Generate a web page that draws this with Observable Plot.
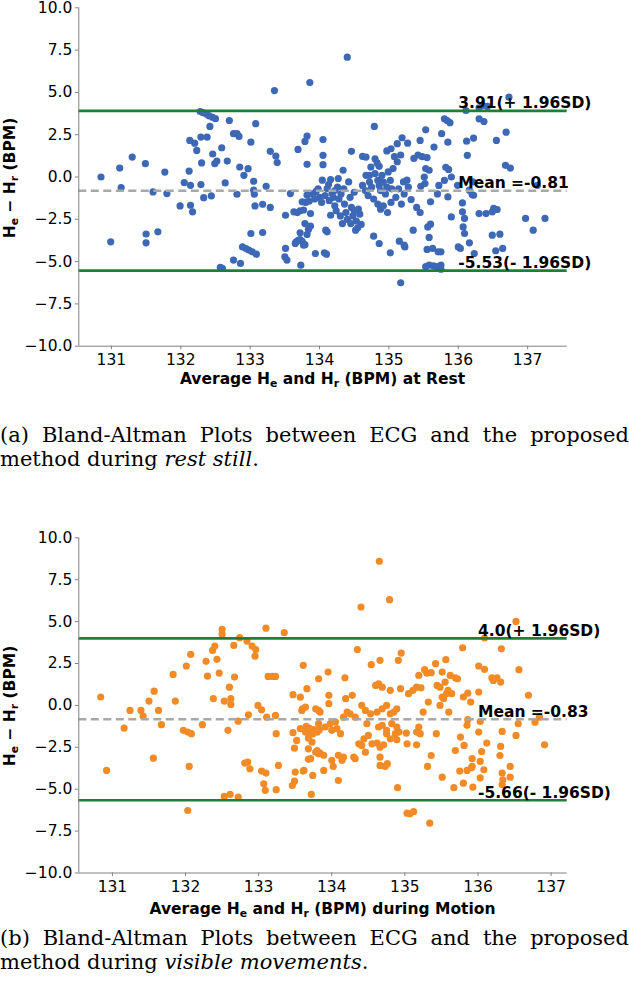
<!DOCTYPE html>
<html><head><meta charset="utf-8">
<script src="https://cdn.jsdelivr.net/npm/d3@7"></script>
<script src="https://cdn.jsdelivr.net/npm/@observablehq/plot@0.6"></script>
<style>
body{margin:0;background:#fff;}
#page{position:relative;width:629px;height:996px;overflow:hidden;font-family:"DejaVu Sans";background:#fff;}
.fig{position:absolute;left:0;width:629px;height:400px;}
.fig svg{position:absolute;left:0;top:0;}
.ylab,.xlab{position:absolute;font-weight:bold;font-size:15.5px;line-height:18px;white-space:nowrap;text-align:center;color:#000;font-family:"DejaVu Sans";}
.ylab{width:200px;transform:rotate(-90deg);transform-origin:50% 50%;}
.sub{font-size:0.7em;position:relative;top:0.25em;}
.cap{position:absolute;left:0;width:629px;font-family:"DejaVu Serif";font-size:21px;line-height:23.5px;color:#000;}
.just{text-align:justify;text-align-last:justify;white-space:nowrap;}
</style>
</head><body>
<div id="page"></div>
<script>
// ---------- data ----------
const restPoints = [
[130.85,0.00],[131.12,0.53],[131.14,-0.63],[130.99,-3.83],[131.30,1.18],[131.49,0.79],[131.50,-3.37],[131.50,-3.89],
[131.60,-0.88],[131.67,-3.24],[131.77,0.29],[131.80,-0.98],[131.99,-1.71],[132.05,-0.33],[132.12,0.35],[132.13,2.16],
[132.14,-0.49],[132.14,-1.67],[132.17,-2.06],[132.20,2.00],[132.23,1.57],[132.29,2.36],[132.29,-0.45],[132.30,0.83],
[132.28,3.87],[132.32,3.80],[132.37,3.72],[132.41,3.61],[132.46,3.53],[132.50,3.45],[132.33,-1.22],[132.38,2.36],
[132.42,2.99],[132.44,-1.12],[132.46,1.36],[132.49,0.79],[132.52,0.94],[132.57,-5.34],[132.60,-5.40],[132.59,1.73],
[132.64,-0.35],[132.67,0.94],[132.70,3.34],[132.76,2.56],[132.76,-4.91],[132.81,2.56],[132.84,2.40],[132.81,-1.02],
[132.85,0.59],[132.86,-5.11],[132.89,-4.13],[132.94,-4.23],[132.98,-4.32],[133.03,-4.42],[133.09,-4.56],[132.91,0.10],
[132.97,0.49],[133.01,2.06],[133.01,-3.34],[133.05,-0.25],[133.05,-0.78],[133.06,-1.02],[133.07,-1.71],[133.08,3.15],
[133.18,-1.61],[133.18,-3.28],[133.23,-0.55],[133.29,1.52],[133.29,-1.80],[133.35,5.11],[133.37,1.24],[133.39,0.85],
[133.51,-4.22],[133.50,-4.72],[133.53,-4.91],[133.51,-2.26],[133.58,-0.98],[133.69,1.63],[133.79,2.10],[133.82,2.42],
[133.82,0.75],[133.86,5.58],
[133.63,-2.06],[133.68,-2.10],[133.72,-2.00],[133.77,-1.95],[133.66,-3.85],[133.69,-3.75],[133.72,-3.70],[133.75,-3.80],
[133.79,-4.00],[133.72,-3.30],[133.73,-5.21],[133.75,-1.47],[133.79,-2.75],[133.80,-1.50],[133.82,-1.07],[133.85,-1.43],
[133.82,-3.40],[133.84,-3.10],[133.87,-2.90],[133.87,-2.16],[133.90,-1.00],[133.93,-1.30],[133.95,-0.85],[133.94,-4.52],
[133.77,-4.03],[133.65,-3.93],
[134.05,2.21],[134.05,1.28],[134.05,0.73],[134.04,-0.19],[134.09,-3.14],[134.11,-3.24],[134.07,-4.48],[134.10,-4.56],
[134.11,-0.68],[134.18,-0.98],[134.26,-0.59],[134.27,-0.09],[134.34,0.40],[134.42,-0.29],[134.16,-2.26],[134.00,-1.20],
[134.03,-1.50],[134.08,-1.10],[134.14,-1.40],[134.20,-1.20],[134.22,-1.70],[134.28,-1.30],[134.31,-1.00],[134.36,-1.60],
[134.33,-2.75],[134.45,-2.75],[134.52,-3.14],[134.24,-2.00],[134.30,-2.30],[134.38,-2.10],[134.40,-2.50],[134.46,1.52],
[134.46,-1.80],[134.50,-2.00],[134.48,-2.30],[134.53,-2.60],[134.56,-1.90],[134.58,-2.20],[134.60,-2.80],[134.55,-3.00],
[134.44,-1.20],[134.50,-0.90],[134.40,7.08],[133.98,-0.70],[134.13,-0.45],[134.22,-0.80],[134.35,-0.70],[134.16,-0.15],
[134.67,0.10],[134.72,0.10],[134.74,0.59],
[134.62,1.22],[134.67,1.18],[134.79,2.99],[134.80,1.08],[134.83,0.83],[134.86,0.63],[134.62,-0.50],[134.66,-0.80],
[134.70,-1.10],[134.72,-0.30],[134.75,-0.60],[134.78,-1.30],[134.80,0.20],[134.84,-0.20],[134.86,-0.50],[134.88,-0.80],
[134.90,0.10],[134.92,-0.30],[134.95,-1.00],[134.97,-0.60],[134.99,0.30],[135.02,-0.20],[135.04,-0.70],[135.06,0.50],
[134.84,-1.60],[134.88,-1.90],[134.92,-1.70],[134.98,-2.10],[135.03,-1.50],[134.97,1.54],[135.03,1.67],[135.12,1.97],
[135.19,2.32],[135.27,2.00],[135.08,1.20],[135.12,0.90],[135.17,1.30],[134.86,-3.93],[134.78,-3.50],[135.02,-4.48],
[135.15,-3.79],[135.23,-4.13],[135.22,-4.03],[135.17,-6.25],[135.21,-0.29],[135.26,-0.19],[135.32,-1.33],[135.35,-3.14],
[135.10,-1.20],[135.14,-0.70],[135.18,-1.60],[135.22,-1.00],[135.28,-0.60],
[135.36,1.10],[135.42,1.30],[135.48,1.20],[135.55,1.15],[135.45,2.16],[135.53,2.79],[135.53,0.50],[135.58,0.40],
[135.51,0.00],[135.65,1.77],[135.46,-0.55],[135.52,-0.39],[135.76,2.56],[135.80,3.44],[135.84,3.34],[135.88,3.21],
[135.85,2.06],[135.82,0.57],[135.86,0.45],[135.90,0.00],[135.80,-0.20],[135.60,-1.47],[135.85,-1.18],[135.90,-2.36],
[135.56,-2.95],[135.60,-2.79],[135.58,-3.57],[135.55,-4.28],[135.63,-4.22],[135.71,-4.42],[135.75,-4.42],[135.53,-5.30],
[135.58,-5.20],[135.64,-5.25],[135.69,-5.30],[135.75,-5.20],[135.75,-5.45],[135.40,-1.80],[135.45,-2.10],[135.70,-1.00],
[135.72,-0.50],[135.99,-0.49],
[136.11,3.93],[136.30,4.09],[136.35,4.23],[136.42,4.17],[136.73,4.72],[136.30,3.44],[136.37,3.28],[136.69,2.65],
[136.55,2.16],[136.22,2.30],[136.12,2.12],[136.13,1.28],[136.68,0.69],[136.75,0.53],[136.21,-0.29],[136.16,-0.78],
[136.20,-1.04],[137.14,-0.49],[136.06,-2.06],[136.09,-2.45],[136.07,-2.95],[136.09,-3.34],[136.16,-3.89],[136.03,-4.22],
[136.00,-4.13],[136.30,-2.16],[136.40,-2.16],[136.49,-2.06],[136.51,-1.86],[136.56,-1.92],[136.97,-2.45],[137.25,-2.45],
[137.08,-3.14],[136.49,-3.44],[136.60,-3.38],[136.54,-4.36],[136.64,-4.22],[136.23,-4.52],[136.06,-1.53],[136.22,-1.08]
];
const motionPoints = [
[130.84,0.50],[130.92,-3.88],[131.16,-1.35],[131.24,-0.30],[131.39,-0.30],[131.42,-0.64],[131.50,0.26],[131.57,0.85],
[131.56,-3.15],[131.63,-0.30],[131.67,-1.15],[131.86,0.26],[131.97,-1.49],[132.03,-1.59],[132.08,-1.69],[132.05,-3.64],
[132.03,-6.27],[132.23,-1.15],[132.38,0.40],[132.53,0.26],[132.58,-1.49],[132.60,1.09],[132.62,0.40],[132.62,0.06],
[132.53,-5.43],[132.61,-5.31],[132.72,-5.47],[132.72,-0.94],[132.81,-3.44],[132.85,-3.38],[132.88,-3.78],[132.86,-0.56],
[132.99,0.00],[133.04,-0.26],[133.04,-3.92],[133.10,-4.04],[133.07,-4.68],[133.09,-5.07],[133.11,-0.70],[133.23,-0.60],
[133.24,-1.69],[133.27,-3.58],[133.24,-5.03],[133.47,0.64],[133.47,-1.63],[133.49,-2.55],[133.52,-2.09],[133.50,-3.98],
[133.46,-4.78],[133.49,-4.52],[133.60,-0.20],[133.61,-3.92],[133.66,1.00],[133.65,-1.25],[133.69,-1.35],[133.71,-1.60],
[133.68,-1.95],[133.74,-1.70],[133.76,-1.45],[133.80,-1.60],[133.83,-1.45],[133.68,-2.59],[133.68,-3.22],[133.74,-4.18],
[133.72,-5.31],[133.78,-2.79],[133.82,-2.89],[133.82,-0.30],[133.82,-1.09],
[131.83,1.85],[132.01,2.35],[132.07,3.04],[132.28,2.63],[132.30,1.75],[132.37,3.28],[132.40,3.54],[132.43,2.75],
[132.46,1.93],[132.50,4.54],[132.50,4.24],[132.66,3.58],[132.67,1.69],[132.74,4.04],[132.84,3.84],[132.91,3.54],
[132.96,3.33],[132.95,2.94],[133.10,4.61],[133.13,1.73],[133.19,1.73],[133.23,1.73],[133.35,4.34],[133.61,2.39],
[133.82,1.59],
[134.65,8.60],[134.79,6.31],[134.40,5.87],[136.52,5.01],[136.09,4.02],[136.32,3.38],[135.79,3.44],[134.35,3.33],
[134.95,3.12],[134.91,2.69],[134.66,2.69],[134.54,2.43],[133.95,1.99],[134.18,1.65],[135.19,1.79],[135.27,2.13],
[135.30,1.93],[135.36,1.95],[135.42,2.49],[135.51,1.99],[135.56,2.73],[135.62,1.79],[135.69,1.65],[135.72,1.59],
[136.01,2.35],[136.09,2.15],[136.19,1.65],[136.26,1.65],[136.56,2.13],
[136.01,0.80],[136.69,0.60],[136.21,1.49],[136.31,1.39],[135.90,0.20],[135.86,0.73],[135.80,0.50],[135.60,-0.40],
[135.48,1.09],[135.44,1.19],[135.55,1.39],[135.59,0.90],[135.53,0.40],[135.48,0.00],[135.32,0.20],[135.25,-0.40],
[136.55,-1.09],[136.52,-1.79],[136.33,-1.55],[136.03,-0.96],[136.01,-1.59],[135.86,-0.85],[135.85,-1.19],[136.78,-1.00],
[136.84,-0.70],[136.91,-2.35],[136.12,-2.25],[136.31,-2.45],[136.30,-2.99],[136.05,-2.75],[135.92,-3.18],[136.03,-3.34],
[136.08,-3.84],[135.92,-3.64],[136.33,-4.04],[136.34,-4.44],[136.33,-4.72],[136.44,-3.64],[136.44,-4.28],[136.03,-4.32],
[135.93,-4.88],[135.80,-4.64],[135.75,-3.92],[135.85,-3.88],[135.91,-3.72],[135.67,-4.91],[135.51,-4.28],[135.69,-2.69],
[135.81,-2.39],[135.76,-1.89],[135.36,-2.99],[135.31,-3.64],[135.43,-1.69],[135.16,-2.35],[135.03,-2.29],[134.89,-2.05],
[134.92,-1.59],[135.02,-1.65],[135.16,-1.59],[135.19,-1.29],[135.21,-1.69],[134.90,-4.91],[135.03,-6.43],[135.07,-6.47],
[135.12,-6.33],[135.34,-7.03],[134.66,-3.09],[134.73,-3.64],[134.66,-3.58],[134.76,-3.48],[134.62,-2.25],[134.66,-2.49],
[134.71,-2.35],
[134.19,0.40],[134.28,0.60],[134.41,0.00],[134.46,-0.30],[134.25,-0.50],[134.32,-0.70],[134.21,-0.40],[134.16,-0.70],
[133.96,0.60],[133.96,0.10],[133.84,-0.40],[133.78,-0.20],[133.64,-0.10],[133.59,-0.30],[133.57,-1.39],[133.64,-1.59],
[133.91,-1.29],[133.98,-1.09],[134.00,-1.49],[134.05,-0.99],[134.07,-1.39],[134.12,-1.69],[133.73,-2.19],[133.80,-2.69],
[133.84,-2.85],[133.89,-2.98],[133.71,-3.18],[133.62,-3.88],[133.89,-3.88],[134.00,-3.28],[134.02,-3.64],[134.09,-2.98],
[134.14,-3.28],[134.16,-3.08],[134.09,-4.48],[134.30,-3.08],[134.32,-3.18],[134.41,-2.39],[134.46,-2.79],[134.37,-2.29],
[134.48,-1.09],[134.50,-1.79],[134.44,-1.99],[134.55,-2.29],[134.64,-1.29],[134.69,-1.19],[134.75,-1.49],[134.82,-1.09],
[134.89,-1.29],[134.87,-1.69],[134.75,-1.69],[134.80,-1.99],[134.53,-0.50],[134.62,-0.40],[134.69,-0.20],[134.75,0.00],
[134.80,-0.50],[134.85,-0.40],[134.89,-0.20],[134.60,1.19],[134.64,1.29],[134.69,1.09],[134.80,0.90],[134.94,1.00],
[135.05,0.70],[135.11,0.90],[135.16,1.09],[135.22,1.05],[135.51,0.50],[135.57,0.70],[135.64,0.70],[133.57,0.49]
];
const restLines = [3.91, -0.81, -5.53];
const restLineLabels = ["3.91(+ 1.96SD)", "Mean =-0.81", "-5.53(- 1.96SD)"];
const motionLines = [4.0, -0.83, -5.66];
const motionLineLabels = ["4.0(+ 1.96SD)", "Mean =-0.83", "-5.66(- 1.96SD)"];
const lineKinds = ["sd", "mean", "sd"];
const labelAt = 136;
const restXDomain = [130.53, 137.57];
const motionXDomain = [130.54, 137.22];
const yDomain = [-10, 10];
const xTicks = [131, 132, 133, 134, 135, 136, 137];
const yTicks = [-10, -7.5, -5, -2.5, 0, 2.5, 5, 7.5, 10];
const restColor = "#3d68b6";
const motionColor = "#f28b26";

// ---------- drawing ----------
const page = document.getElementById("page");

function figure(top, pts, color, lines, labels, xDomain, innerBottom, xLabelHTML, xLabelOffset) {
  const W = 629, H = 400, mTop = 7.3, mLeft = 78.3, mRight = 62.3;
  const lineData = lines.map((v, i) => ({v, kind: lineKinds[i], label: labels[i]}));
  const svg = Plot.plot({
    width: W, height: H,
    marginTop: mTop, marginLeft: mLeft, marginRight: mRight, marginBottom: H - innerBottom,
    style: {fontFamily: "DejaVu Sans", fontSize: "15.5px", background: "white", color: "black"},
    x: {domain: xDomain, axis: null},
    y: {domain: yDomain, axis: null},
    marks: [
      Plot.dot(pts, {x: d => d[0], y: d => d[1], r: 3.6, fill: color, stroke: "none"}),
      Plot.ruleY(lineData.filter(d => d.kind === "sd"), {y: "v", stroke: "#1f7e37", strokeWidth: 2.7}),
      Plot.ruleY(lineData.filter(d => d.kind === "mean"), {y: "v", stroke: "#a8a8a8", strokeWidth: 2.4, strokeDasharray: "8,4.5"}),
      Plot.text(lineData, {x: () => labelAt, y: "v", text: "label", textAnchor: "start", lineAnchor: "bottom", dy: -2.5,
        fontWeight: "bold", fontSize: 15.5, fill: "black"}),
      Plot.ruleX([xDomain[0]], {stroke: "#808080", strokeWidth: 1}),
      Plot.ruleY([yDomain[0]], {stroke: "#808080", strokeWidth: 1}),
      Plot.axisX({ticks: xTicks, tickFormat: d3.format("d"), tickSize: 3.5, tickPadding: 4.5, stroke: "#808080", fill: "black", label: null}),
      Plot.axisY({ticks: yTicks, tickFormat: d3.format(".1f"), tickSize: 3.5, tickPadding: 3, stroke: "#808080", fill: "black", label: null})
    ]
  });
  const wrap = document.createElement("div");
  wrap.className = "fig";
  wrap.style.top = top + "px";
  wrap.appendChild(svg);
  const cy = (mTop + innerBottom) / 2;
  const yl = document.createElement("div");
  yl.className = "ylab";
  yl.style.left = (11 - 100) + "px";
  yl.style.top = (cy - 9) + "px";
  yl.innerHTML = 'H<span class="sub">e</span> \u2212 H<span class="sub">r</span> (BPM)';
  wrap.appendChild(yl);
  const xl = document.createElement("div");
  xl.className = "xlab";
  xl.style.left = ((mLeft + W - mRight) / 2 - 300) + "px";
  xl.style.width = "600px";
  xl.style.top = (innerBottom + xLabelOffset - 14.4) + "px";
  xl.innerHTML = xLabelHTML;
  wrap.appendChild(xl);
  page.appendChild(wrap);
}

function caption(top, first, second) {
  const c = document.createElement("div");
  c.className = "cap";
  c.style.top = top + "px";
  c.innerHTML = '<div class="just">' + first + '</div><div>' + second + '</div>';
  page.appendChild(c);
}

figure(0, restPoints, restColor, restLines, restLineLabels, restXDomain, 345.7,
  'Average H<span class="sub">e</span> and H<span class="sub">r</span> (BPM) at Rest', 39);
caption(424, "(a) Bland-Altman Plots between ECG and the proposed", "method during <i>rest still</i>.");
figure(530, motionPoints, motionColor, motionLines, motionLineLabels, motionXDomain, 342.5,
  'Average H<span class="sub">e</span> and H<span class="sub">r</span> (BPM) during Motion', 42);
caption(927, "(b) Bland-Altman Plots between ECG and the proposed", "method during <i>visible movements</i>.");
</script>
</body></html>
